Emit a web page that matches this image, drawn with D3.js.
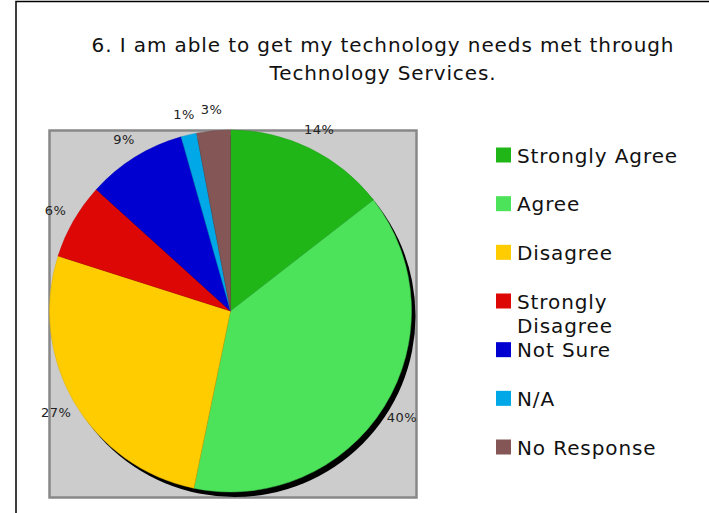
<!DOCTYPE html>
<html>
<head>
<meta charset="utf-8">
<script src="https://cdn.jsdelivr.net/npm/d3@7"></script>
<style>
  body { margin: 0; background: #fff; }
  svg { font-family: "DejaVu Sans", Verdana, sans-serif; }
</style>
</head>
<body>
<div id="chart"></div>
<script>
// answers, in drawing order clockwise from 12 o'clock
let categories = ["Strongly Agree", "Agree", "Disagree", "Strongly Disagree", "Not Sure", "N/A", "No Response"];
let shares = [14.5, 38.8, 26.7, 6.8, 8.9, 1.4, 3.0];
let shareLabels = ["14%", "40%", "27%", "6%", "9%", "1%", "3%"];
let colors = ["#21b618", "#4ce35a", "#ffcc00", "#dd0806", "#0000d0", "#00a8e8", "#845656"];
let titleLines = ["6. I am able to get my technology needs met through", "Technology Services."];

let width = 709, height = 513;
let svg = d3.select("#chart").append("svg")
  .attr("width", width)
  .attr("height", height);

// outer frame (right and bottom run off the page)
svg.append("path")
  .attr("d", "M16,520 L16,1.5 L720,1.5")
  .attr("fill", "none")
  .attr("stroke", "#000")
  .attr("stroke-width", 1.5);

// title
svg.append("g").selectAll("text")
  .data(titleLines)
  .enter()
  .append("text")
  .attr("x", 383)
  .attr("y", (d, i) => 52 + i * 28)
  .attr("text-anchor", "middle")
  .style("font-size", "20px")
  .style("letter-spacing", "0.9px")
  .attr("fill", "#111")
  .text(d => d);

// plot area
svg.append("rect")
  .attr("x", 49.5)
  .attr("y", 130.5)
  .attr("width", 367)
  .attr("height", 367)
  .attr("fill", "#cccccc")
  .attr("stroke", "#888")
  .attr("stroke-width", 2.5);

let cx = 230.5, cy = 311, radius = 181;

let pie = d3.pie().sort(null).value(d => d.value);
let arcs = pie(categories.map((c, i) => ({name: c, value: shares[i], label: shareLabels[i], color: colors[i]})));

let arc = d3.arc().innerRadius(0).outerRadius(radius);
let labelArc = d3.arc().innerRadius(202).outerRadius(202);

let pieG = svg.append("g").attr("transform", "translate(" + cx + "," + cy + ")");

// drop shadow
pieG.append("circle")
  .attr("cx", 4)
  .attr("cy", 5)
  .attr("r", radius)
  .attr("fill", "#000");

pieG.selectAll("path.slice")
  .data(arcs)
  .enter()
  .append("path")
  .attr("class", "slice")
  .attr("d", arc)
  .attr("fill", d => d.data.color)
  .attr("stroke", d => d3.color(d.data.color).darker(0.4))
  .attr("stroke-width", 0.5);

pieG.selectAll("text")
  .data(arcs)
  .enter()
  .append("text")
  .attr("x", d => labelArc.centroid(d)[0])
  .attr("y", d => labelArc.centroid(d)[1])
  .attr("dy", "0.35em")
  .attr("text-anchor", "middle")
  .style("font-size", "13px")
  .style("letter-spacing", "0.5px")
  .attr("fill", "#222")
  .text(d => d.data.label);

// legend
let legendY = d3.scaleLinear().domain([0, categories.length - 1]).range([155, 447]);
let legend = svg.append("g");

let rows = legend.selectAll("g")
  .data(categories)
  .enter()
  .append("g")
  .attr("transform", (d, i) => "translate(496," + legendY(i) + ")");

rows.append("rect")
  .attr("x", 0)
  .attr("y", -7.5)
  .attr("width", 15)
  .attr("height", 15)
  .attr("fill", (d, i) => colors[i]);

rows.append("text")
  .attr("x", 21)
  .attr("y", 7.5)
  .style("font-size", "20px")
  .style("letter-spacing", "0.9px")
  .attr("fill", "#111")
  .each(function(d) {
    let words = d === "Strongly Disagree" ? ["Strongly", "Disagree"] : [d];
    d3.select(this).selectAll("tspan")
      .data(words)
      .enter()
      .append("tspan")
      .attr("x", 21)
      .attr("dy", (w, j) => j === 0 ? 0 : 24)
      .text(w => w);
  });
</script>
</body>
</html>
